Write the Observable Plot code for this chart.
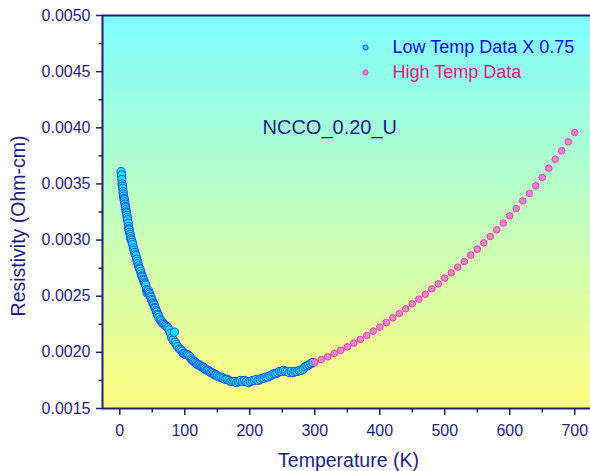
<!DOCTYPE html>
<html><head><meta charset="utf-8">
<script src="https://cdn.jsdelivr.net/npm/d3@7"></script>
<script src="https://cdn.jsdelivr.net/npm/@observablehq/plot@0.6"></script>
<style>body{margin:0;background:#fff;}</style>
</head><body><div id="chart"></div>
<script>
// Low temperature data (scaled x 0.75)
const lowT = [2,2.5,3,3.5,4,4.5,5,5.5,6,6.5,7,7.5,8,8.5,9,9.5,10,10.5,11,11.5,12,13,13.5,14,14.5,15,16,16.5,17,18,19,20,21,22,23,24,25,26,27,28,29,30,31,32,33,34,35,36,37,38,39,40,41,42,43,44,45,46,47,48,49,50,51,52,53,54,55,56,57,58,59,60,62,64,66,68,70,72,74,76,78,80,82,84,85,87,89,92,94,96,98,100,102,104,106,108,110,112,114,116,118,120,122,124,126,128,130,132,134,136,138,140,142,144,146,148,150,153,156,159,162,165,168,171,174,177,180,183,186,189,192,195,198,201,204,207,210,213,216,219,222,225,228,231,234,237,240,243,246,249,252,255,258,261,264,267,270,273,276,279,282,285,288,291,294,297];
const lowR = [0.00361,0.00358,0.00354,0.00350,0.00348,0.00346,0.00343,0.00341,0.00339,0.00337,0.00336,0.00334,0.00332,0.00330,0.00329,0.00327,0.00325,0.00324,0.00322,0.00320,0.00318,0.00315,0.00312,0.00310,0.00309,0.00307,0.00305,0.00303,0.00301,0.00300,0.00298,0.00296,0.00293,0.00291,0.00289,0.00287,0.00286,0.00283,0.00281,0.00279,0.00277,0.00275,0.00274,0.00272,0.00270,0.00268,0.00267,0.00265,0.00264,0.00262,0.00261,0.00260,0.00256,0.00253,0.00255,0.00255,0.00253,0.00252,0.00250,0.00249,0.00247,0.00246,0.00244,0.00243,0.00242,0.00240,0.00239,0.00237,0.00236,0.00234,0.00233,0.00231,0.00229,0.00228,0.00226,0.00225,0.00224,0.00223,0.00222,0.00220,0.00217,0.00213,0.00211,0.00218,0.00209,0.00207,0.00205,0.00203,0.00202,0.00201,0.00199,0.00199,0.00198,0.00198,0.00197,0.00196,0.00194,0.00193,0.00192,0.00191,0.00190,0.00189,0.00189,0.00188,0.00187,0.00187,0.00186,0.00185,0.00184,0.00184,0.00183,0.00182,0.00182,0.00181,0.00180,0.00180,0.00179,0.00178,0.00178,0.00177,0.00176,0.00176,0.00175,0.00174,0.00174,0.00174,0.00173,0.00174,0.00175,0.00174,0.00175,0.00174,0.00173,0.00174,0.00175,0.00175,0.00176,0.00175,0.00176,0.00177,0.00177,0.00178,0.00178,0.00179,0.00180,0.00181,0.00181,0.00182,0.00183,0.00183,0.00184,0.00183,0.00183,0.00182,0.00183,0.00182,0.00183,0.00183,0.00184,0.00184,0.00185,0.00187,0.00188,0.00189,0.00190,0.00191];

// High temperature data
const highT = [300,310,320,330,340,350,360,370,380,390,400,410,420,430,440,450,460,470,480,490,500,510,520,530,540,550,560,570,580,590,600,610,620,630,640,650,660,670,680,690,700];
const highR = [0.001912,0.001936,0.001960,0.001990,0.002019,0.002049,0.002082,0.002115,0.002150,0.002189,0.002224,0.002266,0.002308,0.002346,0.002388,0.002432,0.002474,0.002518,0.002566,0.002610,0.002661,0.002708,0.002759,0.002809,0.002866,0.002919,0.002975,0.003032,0.003091,0.003151,0.003216,0.003281,0.003349,0.003415,0.003483,0.003557,0.003640,0.003720,0.003795,0.003875,0.003958];

const xMajor = [0,100,200,300,400,500,600,700];
const xMinor = [50,150,250,350,450,550,650];
const yMajor = [0.0015,0.0020,0.0025,0.0030,0.0035,0.0040,0.0045,0.0050];
const yMinor = [0.00175,0.00225,0.00275,0.00325,0.00375,0.00425,0.00475];

const legendLabels = ["Low Temp Data X 0.75", "High Temp Data"];
const sampleLabel = ["NCCO_0.20_U"];
const xTitle = ["Temperature (K)"];
const yTitle = ["Resistivity (Ohm-cm)"];

const xDomain = [-26.6, 724.2];
const yDomain = [0.0015, 0.0050];

const low = lowT.map((t, i) => ({T: t, R: lowR[i]}));
const high = highT.map((t, i) => ({T: t, R: highR[i]}));

const navy = "#1e1e82";
const fmt = d3.format(".4f");

const plot = Plot.plot({
  width: 590, height: 471,
  marginLeft: 102, marginRight: 0, marginTop: 15, marginBottom: 63,
  style: {fontFamily: "'Liberation Sans', Arial, sans-serif", color: navy, background: "white"},
  x: {domain: xDomain},
  y: {domain: yDomain},
  marks: [
    Plot.frame({fill: "url(#bgGrad)", stroke: "none"}),
    Plot.axisX(xMajor, {tickSize: 7, tickPadding: 9, fontSize: 16, strokeWidth: 1.5, label: null, tickFormat: d => String(d)}),
    Plot.axisX(xMinor, {tickSize: 4.5, strokeWidth: 1.5, label: null, tickFormat: () => ""}),
    Plot.axisY(yMajor, {tickSize: 6, tickPadding: 6, fontSize: 16, strokeWidth: 1.5, label: null, tickFormat: fmt}),
    Plot.axisY(yMinor, {tickSize: 3.5, strokeWidth: 1.5, label: null, tickFormat: () => ""}),
    Plot.ruleX([xDomain[0]], {stroke: navy, strokeWidth: 2}),
    Plot.ruleY([yDomain[0]], {stroke: navy, strokeWidth: 2}),
    Plot.ruleY([yDomain[1]], {stroke: navy, strokeWidth: 2}),
    Plot.dot(low, {x: "T", y: "R", r: 4.1, fill: "#14e4ff", stroke: "#1a50ff", strokeWidth: 1}),
    Plot.dot(high, {x: "T", y: "R", r: 3.3, fill: "#ff80d8", stroke: "#e0449f", strokeWidth: 1}),
    Plot.dot([0], {frameAnchor: "top-left", dx: 263, dy: 32, r: 2.6, fill: "#14e4ff", stroke: "#1a50ff", strokeWidth: 1}),
    Plot.dot([0], {frameAnchor: "top-left", dx: 263, dy: 57, r: 2.6, fill: "#ff80d8", stroke: "#e0449f", strokeWidth: 1}),
    Plot.text([legendLabels[0]], {text: d => d, frameAnchor: "top-left", dx: 290, dy: 32, textAnchor: "start", lineAnchor: "middle", fontSize: 18, fill: "#0a0af0"}),
    Plot.text([legendLabels[1]], {text: d => d, frameAnchor: "top-left", dx: 290, dy: 57, textAnchor: "start", lineAnchor: "middle", fontSize: 18, fill: "#e41a7c"}),
    Plot.text(sampleLabel, {text: d => d, frameAnchor: "top-left", dx: 160, dy: 112, textAnchor: "start", lineAnchor: "middle", fontSize: 20, fill: navy}),
    Plot.text(xTitle, {text: d => d, frameAnchor: "bottom", dx: 2, dy: 52, textAnchor: "middle", lineAnchor: "middle", fontSize: 19.5, fill: navy}),
    Plot.text(yTitle, {text: d => d, frameAnchor: "left", dx: -84, dy: 14, rotate: -90, textAnchor: "middle", lineAnchor: "middle", fontSize: 19.5, fill: navy})
  ]
});

const svgNS = "http://www.w3.org/2000/svg";
const defs = document.createElementNS(svgNS, "defs");
defs.innerHTML = '<linearGradient id="bgGrad" x1="0" y1="0" x2="0" y2="1"><stop offset="0" stop-color="#80ffff"/><stop offset="1" stop-color="#ffff80"/></linearGradient>';
plot.insertBefore(defs, plot.firstChild);
document.getElementById("chart").appendChild(plot);
</script>
</body></html>
